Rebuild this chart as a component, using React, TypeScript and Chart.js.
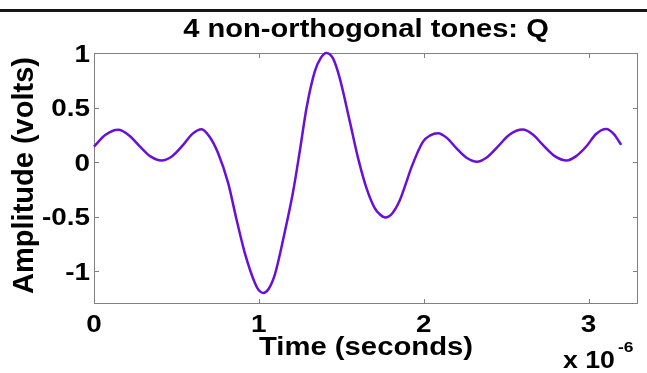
import React, { useEffect, useRef } from "react";
import { Chart, registerables } from "chart.js";

Chart.register(...registerables);

// Sampled Q-channel waveform: time in microseconds, amplitude in volts
const timeUs = [
  0.0, 0.07, 0.147, 0.213, 0.279, 0.345, 0.41, 0.476, 0.541, 0.597, 0.653,
  0.7, 0.753, 0.814, 0.865, 0.915, 0.976, 1.0, 1.026, 1.06, 1.097, 1.158,
  1.208, 1.248, 1.289, 1.339, 1.375, 1.41, 1.45, 1.491, 1.552, 1.602, 1.653,
  1.703, 1.735, 1.768, 1.81, 1.855, 1.9, 1.925, 1.996, 2.04, 2.087, 2.142,
  2.198, 2.26, 2.324, 2.38, 2.441, 2.52, 2.6, 2.66, 2.723, 2.795, 2.867,
  2.925, 2.986, 3.047, 3.107, 3.155, 3.198,
];
const amplitude = [
  0.143, 0.25, 0.296, 0.245, 0.143, 0.05, 0.015, 0.057, 0.158, 0.259, 0.302,
  0.235, 0.082, -0.192, -0.528, -0.833, -1.107, -1.174, -1.199, -1.16,
  -1.031, -0.635, -0.269, 0.097, 0.494, 0.829, 0.953, 1.0, 0.95, 0.768,
  0.371, 0.037, -0.238, -0.421, -0.48, -0.507, -0.468, -0.35, -0.16, -0.05,
  0.188, 0.245, 0.265, 0.22, 0.128, 0.04, 0.003, 0.04, 0.128, 0.25, 0.298,
  0.255, 0.158, 0.055, 0.015, 0.055, 0.143, 0.26, 0.304, 0.255, 0.158,
];

const xTicks = [0, 1, 2, 3];
const xTickLabels = ["0", "1", "2", "3"];
const yTicks = [-1, -0.5, 0, 0.5, 1];
const yTickLabels = ["-1", "-0.5", "0", "0.5", "1"];

const titleText = "4 non-orthogonal tones: Q";
const xLabel = "Time (seconds)";
const yLabel = "Amplitude (volts)";
const xExponentBase = "x 10";
const xExponent = "-6";

const FONT = '"Liberation Sans", Arial, Helvetica, sans-serif';
const WIDE = 1.16;

function stretchedText(
  ctx: CanvasRenderingContext2D,
  text: string,
  x: number,
  y: number,
  size: number,
  align: CanvasTextAlign,
  baseline: CanvasTextBaseline,
  k: number = WIDE
) {
  ctx.save();
  ctx.translate(x, y);
  ctx.scale(k, 1);
  ctx.font = `bold ${size}px ${FONT}`;
  ctx.fillStyle = "#000";
  ctx.textAlign = align;
  ctx.textBaseline = baseline;
  ctx.fillText(text, 0, 0);
  ctx.restore();
}

const axesFrame = {
  id: "axesFrame",
  beforeDatasetsDraw(chart: any) {
    const { ctx, chartArea } = chart;
    const { left, right, top, bottom } = chartArea;
    const xs = chart.scales.x;
    const ys = chart.scales.y;
    ctx.save();
    ctx.strokeStyle = "#808080";
    ctx.lineWidth = 1;
    ctx.strokeRect(left + 0.5, top + 0.5, right - left - 1, bottom - top - 1);
    const len = 5;
    ctx.beginPath();
    xTicks.forEach((v) => {
      const px = Math.round(xs.getPixelForValue(v)) + 0.5;
      ctx.moveTo(px, bottom);
      ctx.lineTo(px, bottom - len);
      ctx.moveTo(px, top);
      ctx.lineTo(px, top + len);
    });
    yTicks.forEach((v) => {
      const py = Math.round(ys.getPixelForValue(v)) + 0.5;
      ctx.moveTo(left, py);
      ctx.lineTo(left + len, py);
      ctx.moveTo(right, py);
      ctx.lineTo(right - len, py);
    });
    ctx.stroke();
    ctx.restore();
  },
  afterDraw(chart: any) {
    const { ctx, chartArea } = chart;
    const xs = chart.scales.x;
    const ys = chart.scales.y;
    const w = chart.width;

    // heavy rule across the top of the figure
    ctx.save();
    ctx.fillStyle = "#151515";
    ctx.fillRect(0, 9, w, 3);
    ctx.restore();

    // title
    const cx = (chartArea.left + chartArea.right) / 2;
    stretchedText(ctx, titleText, cx, 37, 26, "center", "alphabetic", 1.12);

    // tick labels
    xTicks.forEach((v, i) => {
      stretchedText(ctx, xTickLabels[i], xs.getPixelForValue(v), 332, 24, "center", "alphabetic");
    });
    yTicks.forEach((v, i) => {
      stretchedText(ctx, yTickLabels[i], chartArea.left - 4, ys.getPixelForValue(v) + 8.5, 24, "right", "alphabetic");
    });

    // axis titles
    stretchedText(ctx, xLabel, cx, 355, 25, "center", "alphabetic", 1.17);
    stretchedText(ctx, xExponentBase, 563, 368, 23, "left", "alphabetic");
    stretchedText(ctx, xExponent, 618, 352, 15, "left", "alphabetic");

    ctx.save();
    ctx.translate(33, (chartArea.top + chartArea.bottom) / 2 - 3);
    ctx.rotate(-Math.PI / 2);
    ctx.font = `bold 29px ${FONT}`;
    ctx.fillStyle = "#000";
    ctx.textAlign = "center";
    ctx.textBaseline = "alphabetic";
    ctx.fillText(yLabel, 0, 0);
    ctx.restore();
  },
};

export default function App() {
  const canvasRef = useRef<HTMLCanvasElement | null>(null);

  useEffect(() => {
    const canvas = canvasRef.current;
    if (!canvas) return;
    const chart = new Chart(canvas, {
      type: "line",
      data: {
        datasets: [
          {
            data: timeUs.map((t, i) => ({ x: t, y: amplitude[i] })),
            borderColor: "#6810d6",
            borderWidth: 2.5,
            pointRadius: 0,
            fill: false,
            cubicInterpolationMode: "monotone",
            clip: 4,
          } as any,
        ],
      },
      options: {
        animation: false,
        responsive: true,
        maintainAspectRatio: false,
        layout: { padding: { left: 94, top: 53, right: 9, bottom: 69 } },
        plugins: {
          legend: { display: false },
          tooltip: { enabled: false },
          title: { display: false },
        },
        scales: {
          x: {
            type: "linear",
            min: 0,
            max: 3.3,
            ticks: { display: false, stepSize: 1 },
            grid: { display: false },
            border: { display: false },
            afterFit: (s: any) => {
              s.height = 0;
            },
          },
          y: {
            type: "linear",
            min: -1.3,
            max: 1,
            ticks: { display: false, stepSize: 0.5 },
            grid: { display: false },
            border: { display: false },
            afterFit: (s: any) => {
              s.width = 0;
            },
          },
        },
      },
      plugins: [axesFrame],
    });
    return () => chart.destroy();
  }, []);

  return (
    <div
      style={{
        position: "absolute",
        left: 0,
        top: 0,
        width: 647,
        height: 373,
        background: "#fff",
      }}
    >
      <canvas ref={canvasRef} />
    </div>
  );
}
